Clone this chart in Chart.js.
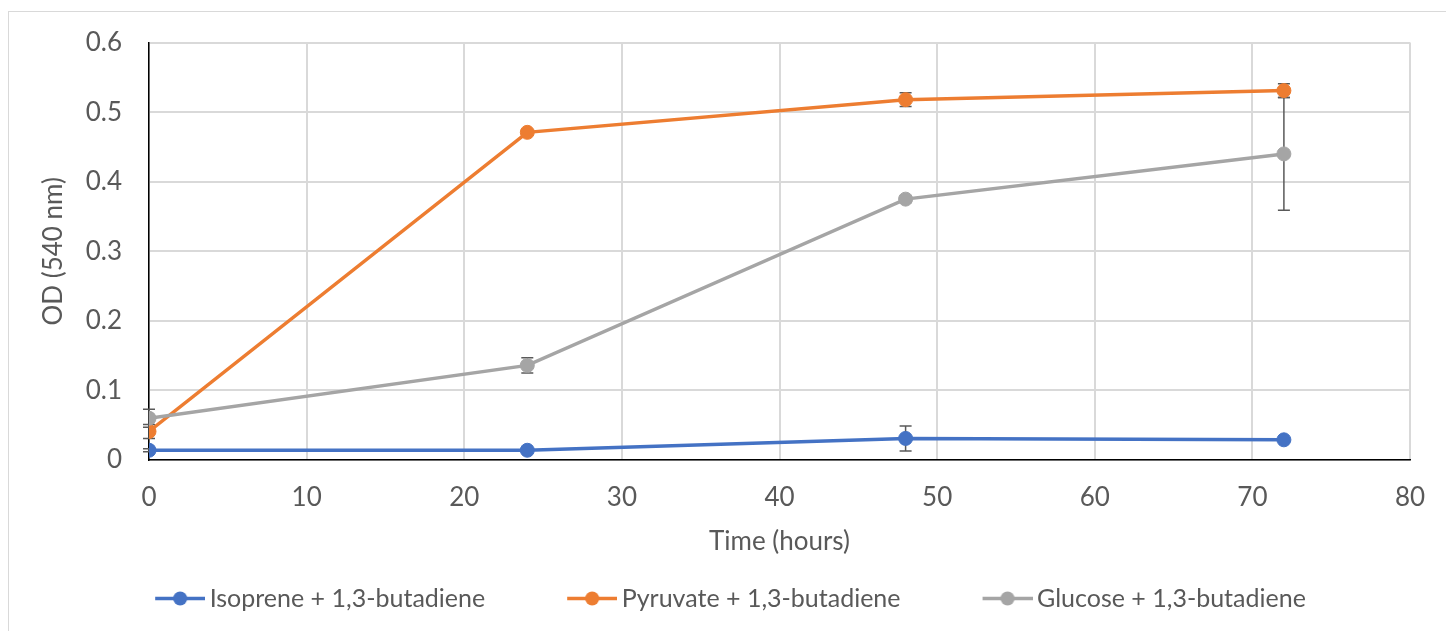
<!DOCTYPE html>
<html>
<head>
<meta charset="utf-8">
<title>OD (540 nm) over time</title>
<script src="https://cdn.jsdelivr.net/npm/chart.js@4/dist/chart.umd.min.js"></script>
<style>
  html, body { margin: 0; padding: 0; background: #ffffff; overflow: hidden; width: 1446px; height: 631px; }
  #frame { position: absolute; left: 8px; top: 11px; width: 1500px; height: 700px; border: 1px solid #d9d9d9; box-sizing: border-box; }
  #wrap { position: absolute; left: -21px; top: 0; width: 1451px; height: 621px; }
</style>
</head>
<body>
<div id="frame"></div>
<div id="wrap"><canvas id="chart"></canvas></div>
<script>
// Sampling times (hours)
const hours = [0, 24, 48, 72];

// Series labels
const seriesNames = [
  'Isoprene + 1,3-butadiene',
  'Pyruvate + 1,3-butadiene',
  'Glucose + 1,3-butadiene'
];

// Mean OD (540 nm) per time point
const isopreneOD = [0.014, 0.014, 0.031, 0.029];
const pyruvateOD = [0.041, 0.471, 0.518, 0.531];
const glucoseOD  = [0.060, 0.136, 0.375, 0.440];

// Error bar half-lengths
const isopreneErr = [0.002, 0.002, 0.018, 0.003];
const pyruvateErr = [0.010, 0.004, 0.010, 0.010];
const glucoseErr  = [0.013, 0.011, 0.005, 0.081];

// Axis ticks
const xTicks = [0, 10, 20, 30, 40, 50, 60, 70, 80];
const yTicks = [0, 0.1, 0.2, 0.3, 0.4, 0.5, 0.6];
const yTickLabels = ['0', '0.1', '0.2', '0.3', '0.4', '0.5', '0.6'];

const seriesColors = ['#4472C4', '#ED7D31', '#A5A5A5'];
const textColor = '#595959';
const gridColor = '#d9d9d9';
const FONT = 'Lato';
const FS = 26;
const LEGEND_FS = 25;

// Legend key: short line with a round marker in the middle
function legendKey(color) {
  const c = document.createElement('canvas');
  c.width = 130; c.height = 21;
  const g = c.getContext('2d');
  g.strokeStyle = color; g.lineWidth = 3.5; g.lineCap = 'butt';
  g.beginPath(); g.moveTo(80, 10.5); g.lineTo(130, 10.5); g.stroke();
  g.fillStyle = color;
  g.beginPath(); g.arc(105, 10.5, 7, 0, Math.PI * 2); g.fill();
  return c;
}
const legendKeys = seriesColors.map(legendKey);

// Vertical error bars with caps, painted beneath the series
const errorBarPlugin = {
  id: 'errorBars',
  beforeDatasetsDraw(chart) {
    const { ctx, scales: { x, y } } = chart;
    ctx.save();
    ctx.strokeStyle = '#595959';
    ctx.lineWidth = 1.5;
    chart.data.datasets.forEach((ds, i) => {
      if (!chart.isDatasetVisible(i) || !ds.errorBars) return;
      ds.data.forEach((pt, j) => {
        const e = ds.errorBars[j];
        const px = x.getPixelForValue(pt.x);
        const top = y.getPixelForValue(pt.y + e);
        const bot = y.getPixelForValue(pt.y - e);
        ctx.beginPath();
        ctx.moveTo(px, top); ctx.lineTo(px, bot);
        ctx.moveTo(px - 6, top); ctx.lineTo(px + 6, top);
        ctx.moveTo(px - 6, bot); ctx.lineTo(px + 6, bot);
        ctx.stroke();
      });
    });
    ctx.restore();
  }
};

function series(i, values, errs, order) {
  return {
    label: seriesNames[i],
    data: hours.map((h, j) => ({ x: h, y: values[j] })),
    errorBars: errs,
    borderColor: seriesColors[i],
    backgroundColor: seriesColors[i],
    pointBackgroundColor: seriesColors[i],
    pointBorderColor: seriesColors[i],
    pointBorderWidth: 1,
    pointRadius: 7,
    borderWidth: 3.5,
    tension: 0,
    order: order
  };
}

Chart.defaults.font.family = FONT;
Chart.defaults.font.size = FS;
Chart.defaults.color = textColor;

new Chart(document.getElementById('chart'), {
  type: 'line',
  data: {
    datasets: [
      series(0, isopreneOD, isopreneErr, 3),
      series(1, pyruvateOD, pyruvateErr, 2),
      series(2, glucoseOD, glucoseErr, 1)
    ]
  },
  plugins: [errorBarPlugin],
  options: {
    responsive: true,
    maintainAspectRatio: false,
    animation: false,
    events: [],
    layout: { padding: { top: 42, right: 20, bottom: 0, left: 0 } },
    scales: {
      x: {
        type: 'linear',
        position: 'bottom',
        min: 0, max: 80,
        afterBuildTicks: s => { s.ticks = xTicks.map(v => ({ value: v })); },
        afterFit: s => { s.height = 116; s.paddingLeft = 0; s.paddingRight = 0; },
        grid: { color: gridColor, lineWidth: 2, drawTicks: false },
        border: { color: '#000000', width: 1.5 },
        ticks: { padding: 22.5, color: textColor, font: { size: FS } },
        title: {
          display: true, text: 'Time (hours)', color: textColor,
          font: { size: FS }, padding: { top: 0, bottom: 19 }
        }
      },
      y: {
        type: 'linear',
        min: 0, max: 0.6,
        afterBuildTicks: s => { s.ticks = yTicks.map(v => ({ value: v })); },
        afterFit: s => { s.width = 170; },
        grid: { color: gridColor, lineWidth: 2, drawTicks: false },
        border: { color: '#000000', width: 1.5 },
        ticks: {
          padding: 27, color: textColor, font: { size: FS },
          callback: (v, idx) => yTickLabels[idx]
        },
        title: {
          display: true, text: 'OD (540 nm)', color: textColor,
          font: { size: FS }, padding: { top: 59, bottom: 0 }
        }
      }
    },
    plugins: {
      tooltip: { enabled: false },
      legend: {
        position: 'bottom',
        labels: {
          usePointStyle: true,
          pointStyleWidth: 114,
          padding: 10,
          color: textColor,
          font: { size: LEGEND_FS },
          sort: (a, b) => a.datasetIndex - b.datasetIndex,
          generateLabels: chart => {
            const items = Chart.defaults.plugins.legend.labels.generateLabels(chart);
            items.forEach(it => { it.pointStyle = legendKeys[it.datasetIndex]; });
            return items;
          }
        }
      }
    }
  }
});
</script>
</body>
</html>
